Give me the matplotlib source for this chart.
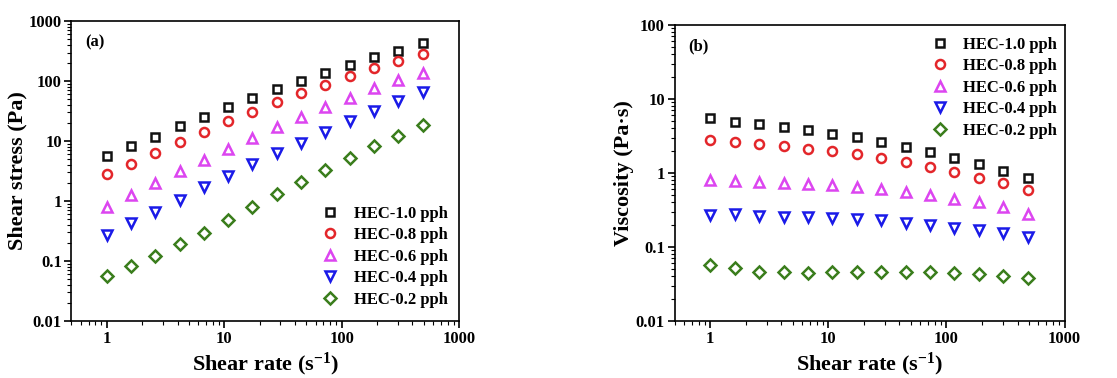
import numpy as np
import matplotlib
matplotlib.use("Agg")
import matplotlib.pyplot as plt
from matplotlib.ticker import LogLocator, FuncFormatter, NullFormatter

plt.rcParams['font.family'] = ['Liberation Serif', 'DejaVu Serif']
plt.rcParams['font.weight'] = 'bold'
plt.rcParams['mathtext.fontset'] = 'custom'
plt.rcParams['mathtext.rm'] = 'Liberation Serif:bold'
plt.rcParams['mathtext.bf'] = 'Liberation Serif:bold'
plt.rcParams['mathtext.default'] = 'bf'

# shear rate (s^-1)
shear_rate = [1, 1.61, 2.59, 4.18, 6.72, 10.8, 17.4, 28.1, 45.2, 72.8, 117, 189, 304, 490]

labels = ['HEC-1.0 pph', 'HEC-0.8 pph', 'HEC-0.6 pph', 'HEC-0.4 pph', 'HEC-0.2 pph']

# (a) shear stress (Pa)
stress_10 = [5.55, 8.15, 11.9, 17.6, 25.4, 36.9, 52.7, 73.6, 101, 139, 187, 248, 324, 430]
stress_08 = [2.78, 4.19, 6.31, 9.5, 14.3, 21.3, 30.8, 44.7, 62.3, 86.9, 120, 163, 218, 285]
stress_06 = [0.79, 1.28, 2.0, 3.12, 4.76, 7.26, 11.4, 17.1, 25.1, 36.4, 52.7, 77.4, 105, 139]
stress_04 = [0.268, 0.43, 0.664, 1.05, 1.69, 2.61, 4.08, 6.23, 9.26, 14.1, 21.5, 31.6, 46.4, 65.6]
stress_02 = [0.0562, 0.0815, 0.121, 0.19, 0.297, 0.489, 0.805, 1.29, 2.05, 3.29, 5.21, 8.15, 12.1, 18.7]

# (b) viscosity (Pa·s)
visc_10 = [5.6, 4.95, 4.6, 4.19, 3.82, 3.37, 3.04, 2.63, 2.27, 1.92, 1.61, 1.32, 1.06, 0.85]
visc_08 = [2.8, 2.6, 2.44, 2.3, 2.11, 1.98, 1.79, 1.58, 1.39, 1.21, 1.02, 0.86, 0.72, 0.58]
visc_06 = [0.80, 0.79, 0.76, 0.74, 0.71, 0.68, 0.64, 0.60, 0.55, 0.50, 0.45, 0.40, 0.35, 0.276]
visc_04 = [0.27, 0.276, 0.262, 0.257, 0.254, 0.244, 0.236, 0.229, 0.213, 0.198, 0.18, 0.17, 0.153, 0.135]
visc_02 = [0.057, 0.0513, 0.0463, 0.0453, 0.044, 0.0453, 0.0463, 0.0463, 0.0463, 0.0453, 0.0443, 0.0426, 0.040, 0.0384]

markers = ['s', 'o', '^', 'v', 'D']
colors = ['#111111', '#e3262a', '#dc45f0', '#1a1ae8', '#3a7d1c']
sizes = [6, 6.5, 7, 7, 6]


def style_axis(ax, ylim, ylabel, tag):
    ax.set_xscale('log')
    ax.set_yscale('log')
    ax.set_xlim(0.5, 1000)
    ax.set_ylim(*ylim)
    fmt = FuncFormatter(lambda v, p: '%g' % v)
    ax.xaxis.set_major_formatter(fmt)
    ax.yaxis.set_major_formatter(fmt)
    ax.xaxis.set_minor_locator(LogLocator(base=10, subs=np.arange(2, 10), numticks=20))
    ax.yaxis.set_minor_locator(LogLocator(base=10, subs=np.arange(2, 10), numticks=20))
    ax.xaxis.set_minor_formatter(NullFormatter())
    ax.yaxis.set_minor_formatter(NullFormatter())
    ax.tick_params(which='major', direction='out', length=5, width=1.2, labelsize=12, pad=2)
    ax.tick_params(which='minor', direction='out', length=3, width=0.8)
    for s in ax.spines.values():
        s.set_linewidth(1.2)
    ax.set_xlabel('Shear rate (s$^{-1}$)', fontsize=16, fontweight='bold', labelpad=3)
    ax.set_ylabel(ylabel, fontsize=16, fontweight='bold', labelpad=1)
    ax.text(0.035, 0.955, tag, transform=ax.transAxes, fontsize=12,
            fontweight='bold', va='top', ha='left')


fig = plt.figure(figsize=(11.17, 3.78), dpi=100)
ax1 = fig.add_axes([0.064, 0.151, 0.347, 0.793])
ax2 = fig.add_axes([0.604, 0.151, 0.349, 0.783])

series_a = [stress_10, stress_08, stress_06, stress_04, stress_02]
series_b = [visc_10, visc_08, visc_06, visc_04, visc_02]

for ys, lab, m, c, ms in zip(series_a, labels, markers, colors, sizes):
    ax1.plot(shear_rate, ys, linestyle='none', marker=m, markersize=ms,
             markerfacecolor='none', markeredgecolor=c, markeredgewidth=1.8, label=lab)
for ys, lab, m, c, ms in zip(series_b, labels, markers, colors, sizes):
    ax2.plot(shear_rate, ys, linestyle='none', marker=m, markersize=ms,
             markerfacecolor='none', markeredgecolor=c, markeredgewidth=1.8, label=lab)

style_axis(ax1, (0.01, 1000), 'Shear stress (Pa)', '(a)')
style_axis(ax2, (0.01, 100), 'Viscosity (Pa·s)', '(b)')

leg_kw = dict(frameon=False, fontsize=12, handlelength=1.2, handletextpad=0.8,
              labelspacing=0.33, borderaxespad=0.3)
ax1.legend(loc='lower right', bbox_to_anchor=(1.0, 0.005), **leg_kw)
ax2.legend(loc='upper right', bbox_to_anchor=(1.01, 1.0), **leg_kw)

fig.savefig('out.png', dpi=100)
